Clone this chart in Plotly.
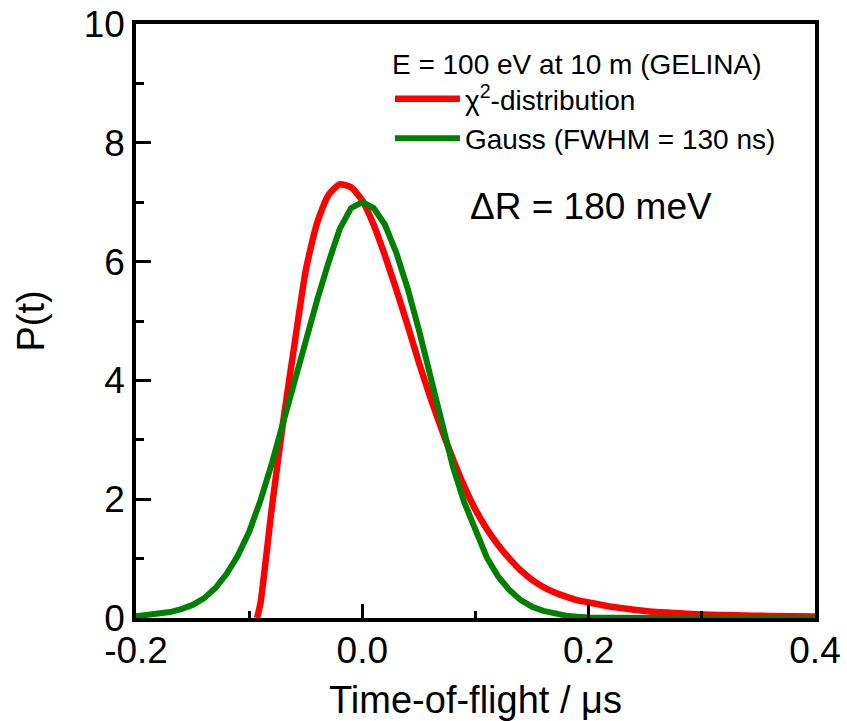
import plotly.graph_objects as go

# Gaussian resolution function
t_gauss = [-0.20, -0.19, -0.18, -0.17, -0.16, -0.15, -0.14, -0.13, -0.12, -0.11,
           -0.10, -0.09, -0.08, -0.07, -0.06, -0.05, -0.04, -0.03, -0.02, -0.01,
           0.00, 0.01, 0.02, 0.03, 0.04, 0.05, 0.06, 0.07, 0.08, 0.09,
           0.10, 0.11, 0.12, 0.13, 0.14, 0.15, 0.16, 0.17, 0.18, 0.19,
           0.20, 0.25, 0.30, 0.35, 0.40]
p_gauss = [0.03, 0.05, 0.07, 0.10, 0.15, 0.22, 0.33, 0.50, 0.74, 1.05,
           1.45, 1.98, 2.60, 3.30, 4.02, 4.65, 5.35, 5.98, 6.55, 6.90,
           7.00, 6.90, 6.62, 6.15, 5.55, 4.85, 4.05, 3.30, 2.55, 1.95,
           1.45, 1.02, 0.70, 0.47, 0.30, 0.19, 0.12, 0.07, 0.04, 0.02,
           0.01, 0.00, 0.00, 0.00, 0.00]

# chi^2-distribution resolution function
t_chi = [-0.093, -0.09, -0.08, -0.07, -0.06, -0.05, -0.04, -0.03, -0.02, -0.01,
         0.00, 0.01, 0.02, 0.03, 0.04, 0.05, 0.06, 0.07, 0.08, 0.09,
         0.10, 0.11, 0.12, 0.13, 0.14, 0.15, 0.16, 0.17, 0.18, 0.19,
         0.20, 0.22, 0.24, 0.26, 0.28, 0.30, 0.33, 0.36, 0.40]
p_chi = [0.00, 0.25, 1.85, 3.30, 4.60, 5.85, 6.65, 7.12, 7.30, 7.25,
         7.03, 6.62, 6.10, 5.53, 4.93, 4.30, 3.72, 3.18, 2.68, 2.22,
         1.82, 1.50, 1.23, 1.00, 0.80, 0.64, 0.52, 0.43, 0.36, 0.30,
         0.26, 0.19, 0.14, 0.10, 0.08, 0.06, 0.045, 0.035, 0.025]

legend_title = "E = 100 eV at 10 m (GELINA)"
name_chi = "χ<sup>2</sup>-distribution"
name_gauss = "Gauss (FWHM = 130 ns)"
note_text = "ΔR = 180 meV"
x_title = "Time-of-flight / μs"
y_title = "P(t)"

FONT = "Liberation Sans, Arial, sans-serif"

fig = go.Figure()
fig.add_trace(go.Scatter(x=t_chi, y=p_chi, mode="lines", name=name_chi,
                         line=dict(color="#FF0000", width=6.5, shape="spline", smoothing=0.6)))
fig.add_trace(go.Scatter(x=t_gauss, y=p_gauss, mode="lines", name=name_gauss,
                         line=dict(color="#008000", width=6)))

axis_common = dict(
    showgrid=False, zeroline=False, showline=True, linecolor="black", linewidth=3.5,
    mirror=True, ticks="inside", tickcolor="black", tickwidth=3, automargin=False,
    tickfont=dict(family=FONT, size=37, color="black"),
)

fig.update_xaxes(range=[-0.2, 0.4], tickvals=[-0.2, 0.0, 0.2, 0.4],
                 ticktext=["-0.2", "0.0", "0.2", "0.4"], ticklen=14,
                 ticklabelstandoff=-3,
                 minor=dict(ticks="inside", ticklen=7, tickwidth=3, tickcolor="black",
                            tickvals=[-0.1, 0.1, 0.3]),
                 title=dict(text=x_title, font=dict(family=FONT, size=38, color="black"), standoff=20),
                 **axis_common)
fig.update_yaxes(range=[0, 10], tickvals=[0, 2, 4, 6, 8, 10], ticklen=15,
                 minor=dict(ticks="inside", ticklen=8, tickwidth=3, tickcolor="black",
                            tickvals=[1, 3, 5, 7, 9]),
                 title=dict(text=y_title, font=dict(family=FONT, size=38, color="black"), standoff=28),
                 **axis_common)

fig.add_annotation(text=note_text, xref="paper", yref="paper", x=0.67, y=0.692,
                   showarrow=False, font=dict(family=FONT, size=37, color="black"),
                   xanchor="center", yanchor="middle")

fig.update_layout(
    width=847, height=721,
    margin=dict(l=136, r=32, t=24, b=103),
    plot_bgcolor="white", paper_bgcolor="white",
    showlegend=True,
    legend=dict(x=0.374, y=0.977, xanchor="left", yanchor="top",
                bgcolor="rgba(0,0,0,0)", borderwidth=0,
                font=dict(family=FONT, size=28, color="black"),
                title=dict(text=legend_title, font=dict(family=FONT, size=28, color="black"), side="top"),
                itemwidth=65, tracegroupgap=0),
)

fig.write_html("out.html")
